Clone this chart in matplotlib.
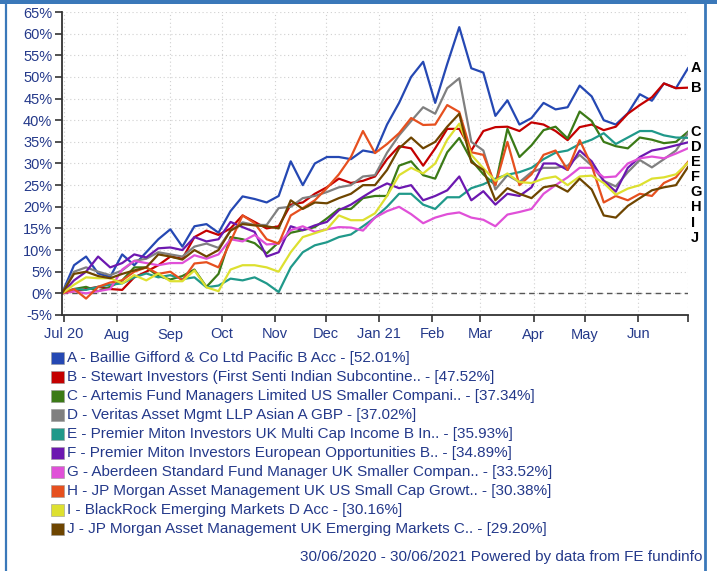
import numpy as np
import pandas as pd
import matplotlib
matplotlib.use("Agg")
import matplotlib.pyplot as plt
from matplotlib.patches import Rectangle
from matplotlib.lines import Line2D

plt.rcParams['font.family'] = ['Liberation Sans', 'DejaVu Sans']

# weekly readings, 30/06/2020 -> 30/06/2021 (cumulative % return)
letters = ["A", "B", "C", "D", "E", "F", "G", "H", "I", "J"]
fund_names = [
    "Baillie Gifford & Co Ltd Pacific B Acc",
    "Stewart Investors (First Senti Indian Subcontine..",
    "Artemis Fund Managers Limited US Smaller Compani..",
    "Veritas Asset Mgmt LLP Asian A GBP",
    "Premier Miton Investors UK Multi Cap Income B In..",
    "Premier Miton Investors European Opportunities B..",
    "Aberdeen Standard Fund Manager UK Smaller Compan..",
    "JP Morgan Asset Management UK US Small Cap Growt..",
    "BlackRock Emerging Markets D Acc",
    "JP Morgan Asset Management UK Emerging Markets C..",
]
returns = [52.01, 47.52, 37.34, 37.02, 35.93, 34.89, 33.52, 30.38, 30.16, 29.20]
colours = ["#2548b3", "#c40000", "#3b7a17", "#808080", "#20998a",
           "#6c18b0", "#e050d8", "#e6501f", "#dde030", "#6e4500"]

fund_a = [0, 6.5, 8.5, 4.6, 3.8, 9, 6.5, 9.5, 12.5, 14.8, 10.8, 15.5, 16, 14, 19, 22.4, 21.8, 21, 22.5, 30.5,
          25, 30, 31.5, 31.5, 31, 33, 32.5, 39, 44, 50, 53.5, 44, 53, 61.5, 52, 51, 41, 44.6, 39, 40.5,
          44, 42.5, 43, 48, 45.5, 40, 39, 41.6, 46, 44.5, 48.5, 47.4, 52.01]
fund_b = [0, 0.5, 1, 1.5, 1, 0.8, 3.7, 5, 6.5, 8.5, 8, 13, 14.5, 13.5, 15, 18, 16.5, 15, 15.5, 20.5,
          21, 23, 24.5, 26.5, 25.5, 26, 27, 31, 34, 33.5, 29.5, 33.5, 38, 38, 33, 37.5, 38.4, 38.5, 37.5, 39.5,
          39, 37.5, 35.4, 38.4, 39, 37.7, 38.5, 41.5, 43.5, 45.3, 48.5, 47.4, 47.52]
fund_c = [0, 1, 1.5, 0.5, 1.5, 3, 6, 6, 4, 3.2, 4, 5.5, 1.5, 4.5, 13, 12.5, 11.6, 9.2, 11.8, 14,
          14.6, 15.3, 17.3, 19.5, 19.5, 22, 22.5, 22.5, 29.5, 30.5, 27.3, 26.5, 32.6, 35.9, 30.8, 27.5, 25, 38, 31.5, 34.2,
          37.7, 38.5, 35.8, 42, 39.8, 35, 34, 33.5, 36, 35.5, 34.7, 35, 37.34]
fund_d = [0, 5, 6, 5, 4.2, 5.3, 7.5, 8, 9.5, 9, 8.5, 10.8, 11.5, 10.5, 14.5, 16.4, 15.8, 15.8, 19.7, 20,
          22, 22.5, 23.4, 24.5, 25, 27, 27.3, 32.5, 36.5, 39.8, 43, 41.5, 47.4, 49.7, 35, 33, 24, 27.3, 25.7, 28,
          29, 29, 29.5, 32, 29.5, 26, 24.7, 28, 30.8, 29.1, 31, 33, 37.02]
fund_e = [0, 1, 0.8, 1.5, 2, 2.3, 3.7, 4.6, 3.7, 4.2, 3.3, 3.7, 1.4, 1.8, 3.4, 3, 3.7, 2.3, 0.3, 6,
          9.5, 11.1, 11.8, 13, 13.6, 15.5, 17.5, 20, 23, 23, 20.5, 19.5, 22.2, 22.2, 24.3, 25.2, 26.5, 27.4, 28, 29,
          31, 32.5, 33, 34.5, 35.5, 37, 34.5, 36, 37.5, 37.5, 36.5, 36, 35.93]
fund_f = [0, 3, 5, 8.5, 6, 7, 9, 8.3, 10.4, 10.6, 10, 13, 12, 12.5, 16.5, 15.3, 14.2, 8.5, 9.5, 15.5,
          14.6, 15.7, 16.5, 19.2, 20.5, 22.3, 24, 25.4, 24.3, 25, 21.5, 22.5, 23.8, 27, 21.5, 23.6, 20.5, 23, 22.5, 24.5,
          30, 30, 28.5, 33, 30.5, 26, 23.5, 29, 31.5, 33, 33.5, 34.2, 34.89]
fund_g = [0, 0.5, 0, 0.5, 1, 5.5, 7.5, 7, 6.5, 7, 7, 8.8, 8, 9, 12.5, 12, 13.5, 11.3, 11.5, 14.6,
          15.5, 14.2, 14.8, 15.3, 15.2, 14.5, 17.5, 19, 20, 18.3, 16.2, 17.5, 18.3, 18.7, 17.5, 17, 15.5, 18.2, 18.8, 19.5,
          23, 25, 26.8, 29, 29, 26.8, 27, 30, 31.2, 31.6, 31.2, 32.3, 33.52]
fund_h = [0, 1, -1.2, 1.5, 2.5, 3, 5, 6, 4.5, 5, 3, 6.9, 7.2, 6, 12, 18, 16.2, 12.5, 11.5, 18,
          19.7, 21.5, 24.3, 27.5, 31.5, 37.5, 32.4, 34.5, 37, 40.5, 38.9, 39, 43.5, 41.9, 32.6, 32, 25, 35, 25, 27.5,
          32, 33, 28.5, 35.4, 29.5, 21, 22.5, 21.5, 23, 22.5, 25.5, 26.8, 30.38]
fund_i = [0, 2, 3.7, 3.5, 3.5, 2.3, 4.2, 3, 4.6, 2.8, 2.8, 5.3, 1.4, 0.5, 5.5, 6.5, 6.5, 6, 5, 9.5,
          13, 13.9, 14.8, 18, 16.9, 16.9, 18.5, 22.5, 27.3, 29, 27.7, 30, 35.5, 39.2, 32, 28.9, 26, 27.7, 25.7, 25.5,
          26.5, 27, 25, 27, 27.2, 25.5, 22.8, 24.2, 25, 26.5, 26.8, 27.5, 30.16]
fund_j = [0, 4.5, 5, 4, 3.5, 4.5, 5.3, 6, 9, 8.5, 7.8, 10, 8.5, 10, 14.5, 16, 15.7, 15.5, 15, 21.5,
          19.5, 21, 20.8, 22, 23, 25, 25, 28.5, 33.5, 36, 33.5, 35, 38.5, 41.5, 30.3, 28.5, 21.5, 24.3, 23, 22,
          24.5, 25, 23.5, 26.5, 24, 18, 17.5, 20.2, 22, 23.8, 24.5, 25, 29.2]
series = [fund_a, fund_b, fund_c, fund_d, fund_e, fund_f, fund_g, fund_h, fund_i, fund_j]

month_ticks = ["2020-07-01", "2020-08-01", "2020-09-01", "2020-10-01", "2020-11-01", "2020-12-01",
               "2021-01-01", "2021-02-01", "2021-03-01", "2021-04-01", "2021-05-01", "2021-06-01", "2021-06-30"]
month_labels = ["Jul 20", "Aug", "Sep", "Oct", "Nov", "Dec", "Jan 21", "Feb", "Mar", "Apr", "May", "Jun", ""]

W, H = 717, 571
navy = "#24398a"
frame_blue = "#3a78b9"


def fx(px):
    return px / W


def fy(py):
    return 1 - py / H


dates = pd.date_range("2020-06-30", "2021-06-30", periods=len(fund_a))

fig = plt.figure(figsize=(W / 100, H / 100), dpi=100)
ax = fig.add_axes([fx(62), fy(315), fx(688) - fx(62), fy(12) - fy(315)])

for vals, col in zip(series, colours):
    ax.plot(dates, vals, color=col, lw=1.6, solid_joinstyle="round")

ax.axhline(0, color="#555555", lw=1.0, ls=(0, (4, 3)), zorder=1)

ax.set_xlim(pd.Timestamp("2020-06-30"), pd.Timestamp("2021-06-30"))
ax.set_ylim(-5, 65)
ax.set_yticks(np.arange(-5, 66, 5))
ax.set_yticklabels([f"{v}%" for v in range(-5, 66, 5)])
ax.set_xticks(pd.to_datetime(month_ticks))
ax.set_xticklabels(month_labels)

ax.grid(True, color="#d0d0d0", lw=0.8, ls=(0, (1, 2.5)))
ax.set_axisbelow(True)
for s in ["top", "right"]:
    ax.spines[s].set_visible(False)
for s in ["left", "bottom"]:
    ax.spines[s].set_color("#333333")
    ax.spines[s].set_linewidth(1.3)
ax.tick_params(axis="both", colors="#333333", labelcolor=navy, labelsize=10.5, length=5, width=1.2)
ax.tick_params(axis="x", pad=4)
ax.tick_params(axis="y", pad=2)

# end labels, pushed apart so they don't overlap
order = np.argsort(returns)[::-1]
prev = None
for idx in order:
    y = returns[idx]
    if prev is not None:
        y = min(y, prev - 3.5)
    prev = y
    ax.text(1.004, y, letters[idx], transform=ax.get_yaxis_transform(), ha="left", va="center",
            fontsize=10.5, fontweight="bold", color="black", clip_on=False)

# legend
for i, (L, name, r, col) in enumerate(zip(letters, fund_names, returns, colours)):
    yc = 358 + 19.03 * i
    fig.add_artist(Rectangle((fx(51), fy(yc + 6)), fx(13), 12 / H, transform=fig.transFigure,
                             facecolor=col, edgecolor="#999999", lw=0.4))
    fig.text(fx(67), fy(yc), f"{L} - {name} - [{r:.2f}%]", ha="left", va="center",
             fontsize=11, color=navy)

fig.text(fx(702), fy(557), "30/06/2020 - 30/06/2021 Powered by data from FE fundinfo",
         ha="right", va="center", fontsize=11, color=navy)

# blue frame
fig.add_artist(Rectangle((0, fy(4)), 1, 4 / H, transform=fig.transFigure, color=frame_blue, lw=0))
fig.add_artist(Line2D([fx(5.5), fx(5.5)], [0, 1], transform=fig.transFigure, color=frame_blue, lw=1.6))
fig.add_artist(Line2D([fx(704.5), fx(704.5)], [0, 1], transform=fig.transFigure, color=frame_blue, lw=2.0))

fig.savefig("out.png", dpi=100)
